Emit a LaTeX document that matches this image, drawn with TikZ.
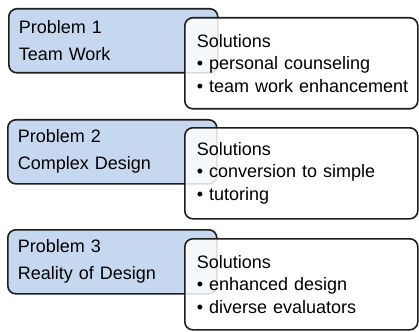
\documentclass[tikz,border=0pt]{standalone}
\usepackage{fontspec}
\setmainfont{Liberation Sans}
\usepackage{xcolor}
\usepackage{tikz}

\definecolor{probblue}{RGB}{197,216,239}
\definecolor{edgegray}{RGB}{30,30,30}

\tikzset{
    problem/.style={draw=edgegray, line width=1.6pt, rounded corners=8pt,
        fill=probblue, anchor=north west, inner xsep=10pt, inner ysep=0pt,
        text width=189pt, minimum height=64pt, align=left,
        font=\fontsize{18}{27}\selectfont},
    solution/.style={draw=edgegray, line width=1.6pt, rounded corners=8pt,
        fill=white, fill opacity=0.85, text opacity=1, anchor=north west,
        inner xsep=12pt, inner ysep=0pt, text width=209pt, minimum height=91pt,
        align=left, font=\fontsize{18}{22.5}\selectfont}
}

\begin{document}
\begin{tikzpicture}[x=1pt, y=-1pt]
    \useasboundingbox (0,0) rectangle (419,331);

    % problems
    \node[problem] (prob1) at (8,8) {Problem 1\\Team Work};
    \node[problem] (prob2) at (7,119) {Problem 2\\Complex Design};
    \node[problem] (prob3) at (7,229) {Problem 3\\Reality of Design};

    % solutions, laid over the right end of each problem
    \node[solution] (sol1) at (184,17) {Solutions\\• personal counseling\\\mbox{• team work enhancement}};
    \node[solution] (sol2) at (184,127) {Solutions\\• conversion to simple\\• tutoring};
    \node[solution] (sol3) at (184,238) {Solutions\\• enhanced design\\• diverse evaluators};
\end{tikzpicture}
\end{document}
